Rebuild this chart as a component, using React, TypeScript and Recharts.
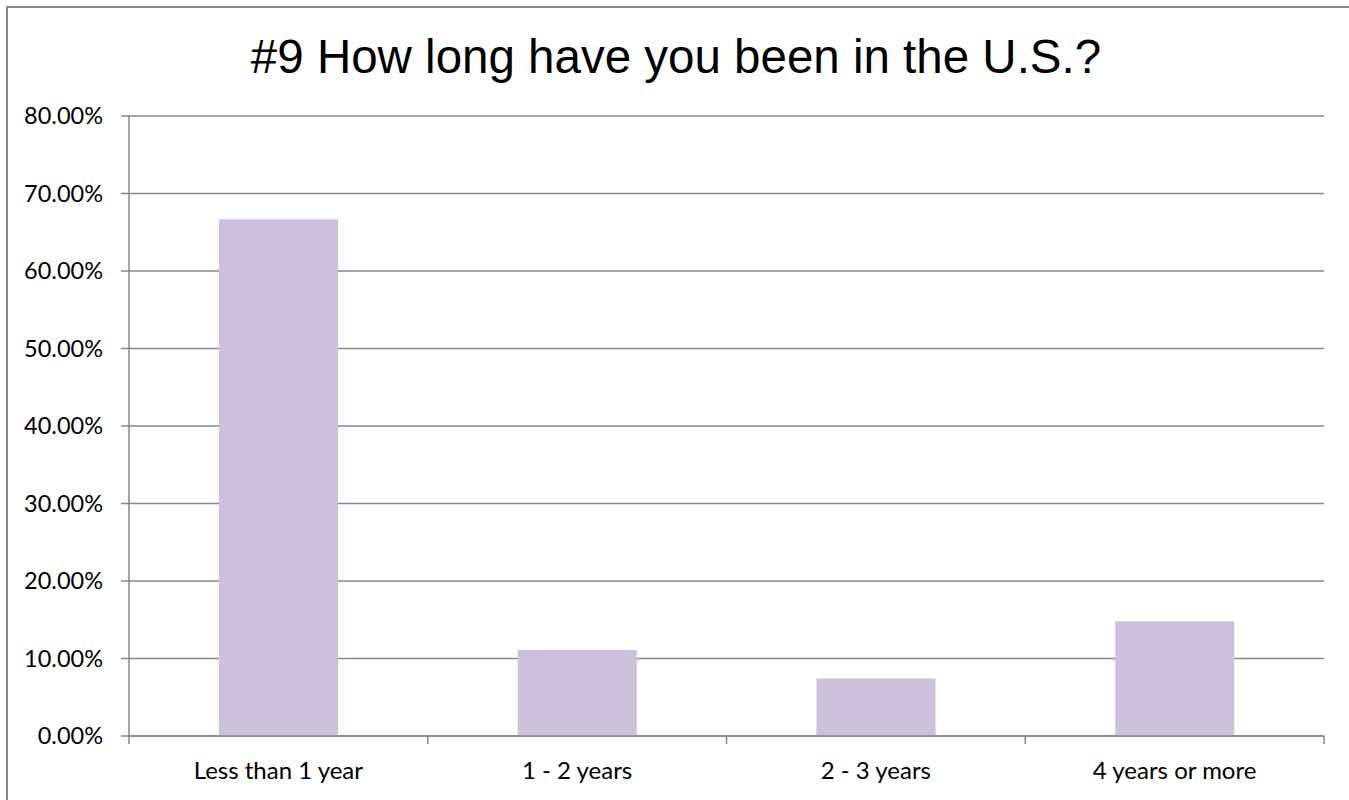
import React from 'react';
import { BarChart, Bar, XAxis, YAxis, CartesianGrid } from 'recharts';

const categories = ['Less than 1 year', '1 - 2 years', '2 - 3 years', '4 years or more'];
const shares = [0.6667, 0.1111, 0.0741, 0.1481];
const yTicks = [0, 0.1, 0.2, 0.3, 0.4, 0.5, 0.6, 0.7, 0.8];
const boundaryTicks = [0, 1, 2, 3, 4];

const data = categories.map((name, i) => ({ name, value: shares[i], pos: i + 0.5 }));

const GRAY = '#868686';
const FONT = 'Lato, "Open Sans", sans-serif';

export default function App() {
  return (
    <div style={{ position: 'absolute', left: 0, top: 0, width: 1349, height: 800, overflow: 'hidden', background: '#fff' }}>
      <div
        style={{
          position: 'absolute',
          left: 6,
          top: 6,
          width: 1400,
          height: 900,
          borderLeft: `2px solid ${GRAY}`,
          borderTop: `2px solid ${GRAY}`,
        }}
      />
      <svg width={1349} height={100} style={{ position: 'absolute', left: 0, top: 0 }}>
        <text x={676} y={73} textAnchor="middle" fontFamily='"Liberation Sans", Arial, sans-serif' fontSize={47.5} fill="#000">
          #9 How long have you been in the U.S.?
        </text>
      </svg>
      <div style={{ position: 'absolute', left: 0, top: 0 }}>
        <BarChart width={1349} height={800} data={data} margin={{ top: 116, right: 25, left: 0, bottom: 0 }}>
          <CartesianGrid vertical={false} stroke={GRAY} strokeWidth={1.5} />
          {/* axis line + boundary tick marks between categories */}
          <XAxis
            dataKey="pos"
            type="number"
            domain={[0, 4]}
            ticks={boundaryTicks}
            interval={0}
            height={1}
            axisLine={{ stroke: GRAY, strokeWidth: 1.5 }}
            tickLine={{ stroke: GRAY, strokeWidth: 1.5 }}
            tickSize={8}
            tick={{ fontSize: 0 }}
            tickFormatter={() => ''}
            allowDataOverflow
          />
          <XAxis
            xAxisId="cat"
            dataKey="name"
            height={63}
            axisLine={false}
            tickLine={false}
            tickSize={0}
            tickMargin={25}
            tick={{ fill: '#000', fontSize: 24, fontFamily: FONT }}
          />
          <YAxis
            width={129}
            domain={[0, 0.8]}
            ticks={yTicks}
            interval={0}
            axisLine={{ stroke: GRAY, strokeWidth: 1.5 }}
            tickLine={{ stroke: GRAY, strokeWidth: 1.5 }}
            tickSize={8}
            tickMargin={18}
            tickFormatter={(v: number) => `${(v * 100).toFixed(2)}%`}
            tick={{ fill: '#000', fontSize: 23.5, fontFamily: FONT }}
          />
          <Bar xAxisId="cat" dataKey="value" fill="#CCC1DA" barSize={119} isAnimationActive={false} />
        </BarChart>
      </div>
    </div>
  );
}
